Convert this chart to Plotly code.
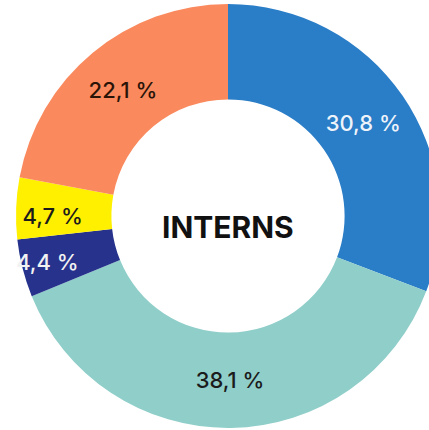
import plotly.graph_objects as go

categories = ["Blue", "Teal", "Navy", "Yellow", "Salmon"]
values = [30.8, 38.1, 4.4, 4.7, 22.1]
labels_text = ["30,8 %", "38,1 %", "4,4 %", "4,7 %", "22,1 %"]
colors = ["#2A7DC7", "#8FCEC9", "#26328C", "#FFF000", "#FA8A5E"]
text_colors = ["#EEF4FA", "#1B1B1B", "#F2F2F2", "#1B1B1B", "#2A1408"]
center_label = "INTERNS"

W, H = 440, 430

fig = go.Figure(go.Pie(
    labels=categories,
    values=values,
    text=labels_text,
    textinfo="text",
    textposition="inside",
    insidetextorientation="horizontal",
    hole=0.55,
    sort=False,
    direction="clockwise",
    rotation=0,
    domain=dict(x=[16 / W, 1.0], y=[2 / H, 1 - 4 / H]),
    marker=dict(colors=colors, line=dict(width=0)),
    textfont=dict(family="Inter, Roboto, sans-serif", size=22, color=text_colors, weight=500),
    hoverinfo="skip",
    showlegend=False,
))

fig.update_layout(
    width=W, height=H,
    margin=dict(l=0, r=0, t=0, b=0),
    paper_bgcolor="white",
    plot_bgcolor="white",
    uniformtext=dict(minsize=22, mode="show"),
    annotations=[dict(text=center_label, x=(16 / W + 1) / 2, y=1 - 227 / H, xref="paper", yref="paper",
                      showarrow=False,
                      font=dict(family="Inter, Roboto, sans-serif", size=30, color="#111111", weight=700))],
)

fig.write_html(
    "out.html",
    config={"displayModeBar": False},
    post_script="document.body.style.margin='0px';document.body.style.overflow='hidden';",
)
